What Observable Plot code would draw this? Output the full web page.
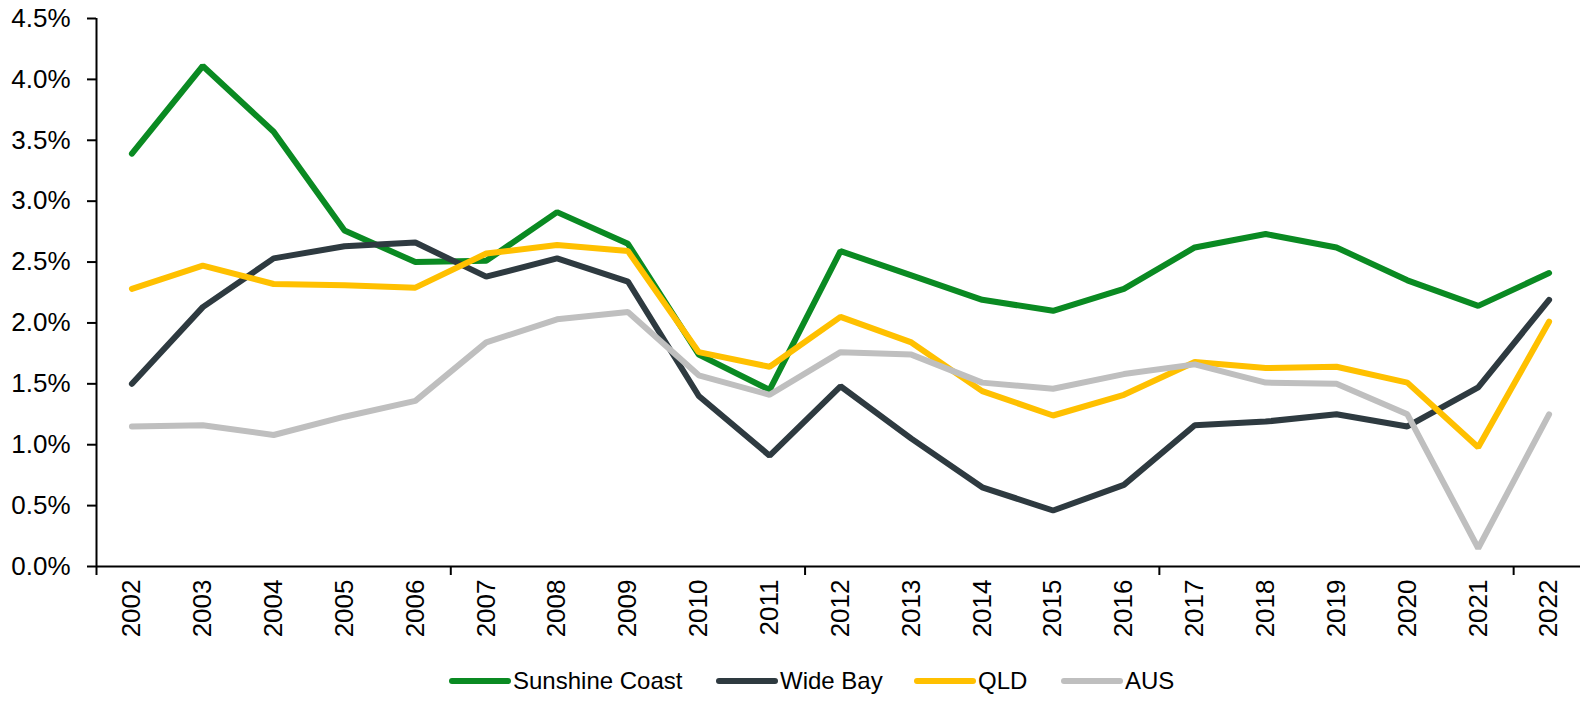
<!DOCTYPE html>
<html>
<head>
<meta charset="utf-8">
<script src="https://cdn.jsdelivr.net/npm/d3@7"></script>
<script src="https://cdn.jsdelivr.net/npm/@observablehq/plot@0.6"></script>
<style>
  html, body { margin: 0; padding: 0; background: #fff; }
  body { width: 1580px; height: 702px; overflow: hidden; font-family: "Liberation Sans", Arial, sans-serif; }
  #legend { position: relative; height: 42px; width: 1580px; }
  .item { position: absolute; top: 0; height: 42px; display: flex; align-items: center; font-size: 24px; color: #000; }
  .sw { width: 62px; height: 6px; border-radius: 3px; margin-right: 2px; }
</style>
</head>
<body>
<div id="chart"></div>
<div id="legend"></div>
<script>
const years = [2002, 2003, 2004, 2005, 2006, 2007, 2008, 2009, 2010, 2011, 2012, 2013, 2014, 2015, 2016, 2017, 2018, 2019, 2020, 2021, 2022];
const sunshineCoast = [3.39, 4.11, 3.57, 2.76, 2.50, 2.51, 2.91, 2.65, 1.74, 1.45, 2.59, 2.39, 2.19, 2.10, 2.28, 2.62, 2.73, 2.62, 2.35, 2.14, 2.41];
const wideBay = [1.50, 2.13, 2.53, 2.63, 2.66, 2.38, 2.53, 2.34, 1.40, 0.91, 1.48, 1.05, 0.65, 0.46, 0.67, 1.16, 1.19, 1.25, 1.15, 1.47, 2.19];
const qld = [2.28, 2.47, 2.32, 2.31, 2.29, 2.57, 2.64, 2.59, 1.76, 1.64, 2.05, 1.84, 1.44, 1.24, 1.41, 1.68, 1.63, 1.64, 1.51, 0.98, 2.01];
const aus = [1.15, 1.16, 1.08, 1.23, 1.36, 1.84, 2.03, 2.09, 1.57, 1.41, 1.76, 1.74, 1.51, 1.46, 1.58, 1.66, 1.51, 1.50, 1.25, 0.15, 1.25];
const seriesNames = ["Sunshine Coast", "Wide Bay", "QLD", "AUS"];
const seriesColors = ["#0a8a22", "#2e3a40", "#ffc000", "#bfbfbf"];
const yTicks = [0, 0.5, 1.0, 1.5, 2.0, 2.5, 3.0, 3.5, 4.0, 4.5];
const xBoundaryTicks = [2001.5, 2006.5, 2011.5, 2016.5, 2021.5];

const seriesValues = [sunshineCoast, wideBay, qld, aus];
const data = [];
seriesNames.forEach((name, i) => {
  years.forEach((yr, j) => data.push({series: name, year: yr, value: seriesValues[i][j]}));
});

const chart = Plot.plot({
  width: 1580,
  height: 660,
  marginLeft: 96,
  marginRight: 0,
  marginTop: 18,
  marginBottom: 94,
  style: {fontFamily: "'Liberation Sans', Arial, sans-serif", fontSize: "26px", color: "#000", overflow: "visible", background: "#fff"},
  x: {type: "linear", domain: [2001.5, 2022.5], range: [96, 1584]},
  y: {domain: [0, 4.5], range: [566, 18]},
  color: {domain: seriesNames, range: seriesColors},
  marks: [
    Plot.axisY({ticks: yTicks, tickFormat: d => d.toFixed(1) + "%", tickSize: 9, tickPadding: 17, fontSize: 26, strokeWidth: 2, label: null}),
    Plot.axisX({ticks: xBoundaryTicks, tickFormat: () => "", tickSize: 9, strokeWidth: 2, label: null}),
    Plot.axisX({ticks: years, tickFormat: d => String(d), tickSize: 0, tickPadding: 13, tickRotate: -90, fontSize: 26, label: null}),
    Plot.ruleY([0], {stroke: "#000", strokeWidth: 2}),
    Plot.ruleX([2001.5], {stroke: "#000", strokeWidth: 2}),
    Plot.line(data, {x: "year", y: "value", z: "series", stroke: "series", strokeWidth: 6, strokeLinecap: "round", strokeLinejoin: "miter"})
  ]
});
document.getElementById("chart").appendChild(chart);

const legend = document.getElementById("legend");
const lefts = [449, 716, 914, 1061];
seriesNames.forEach((name, i) => {
  const it = document.createElement("div");
  it.className = "item";
  it.style.left = lefts[i] + "px";
  const sw = document.createElement("div");
  sw.className = "sw";
  sw.style.background = seriesColors[i];
  const tx = document.createElement("span");
  tx.textContent = name;
  it.appendChild(sw);
  it.appendChild(tx);
  legend.appendChild(it);
});
</script>
</body>
</html>
